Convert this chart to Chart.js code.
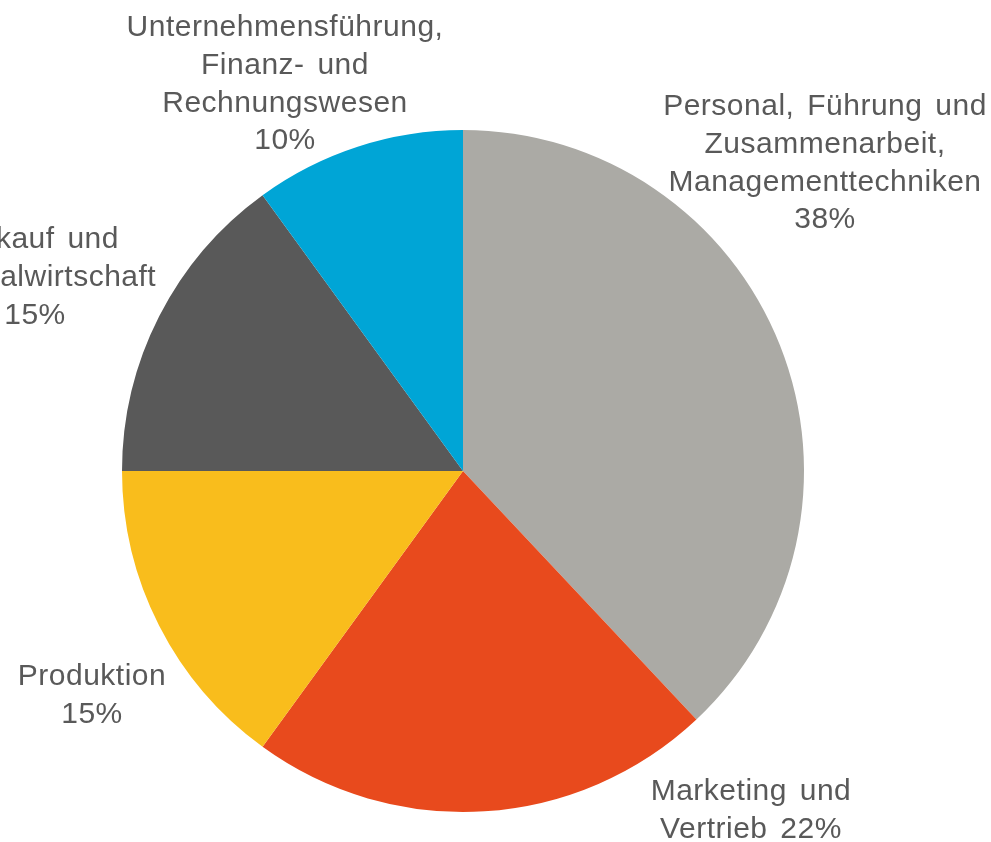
<!DOCTYPE html>
<html>
<head>
<meta charset="utf-8">
<script src="https://cdn.jsdelivr.net/npm/chart.js@4"></script>
<style>
  html, body { margin: 0; padding: 0; background: #fff; }
  #wrap { width: 991px; height: 842px; position: relative; }
</style>
</head>
<body>
<div id="wrap"><canvas id="myChart"></canvas></div>
<script>
const categories = [
    'Personal, Führung und Zusammenarbeit, Managementtechniken',
    'Marketing und Vertrieb',
    'Produktion',
    'Einkauf und Materialwirtschaft',
    'Unternehmensführung, Finanz- und Rechnungswesen'
];
const values = [38, 22, 15, 15, 10];
const sliceColors = ['#ABAAA5', '#E84A1D', '#F9BD1C', '#595959', '#00A5D6'];

// label lines shown next to each slice (last piece gets the percentage)
const labelLines = [
    ['Personal, Führung und', 'Zusammenarbeit,', 'Managementtechniken', ''],
    ['Marketing und', 'Vertrieb '],
    ['Produktion', ''],
    ['Einkauf und', 'Materialwirtschaft', ''],
    ['Unternehmensführung,', 'Finanz- und', 'Rechnungswesen', '']
];

// first line centre, relative to the pie centre
const labelOffsets = [[362, -364], [288, 321], [-371, 206], [-428, -231], [-178, -443]];

const pieLabels = {
    id: 'pieLabels',
    afterDraw(chart) {
        const ctx = chart.ctx;
        const arc = chart.getDatasetMeta(0).data[0];
        const cx = arc.x, cy = arc.y;
        const total = values.reduce((a, b) => a + b, 0);
        ctx.save();
        ctx.fillStyle = '#595959';
        ctx.font = '30px "Liberation Sans", Arial, sans-serif';
        ctx.textAlign = 'center';
        ctx.textBaseline = 'middle';
        if ('letterSpacing' in ctx) ctx.letterSpacing = '0.5px';
        if ('wordSpacing' in ctx) ctx.wordSpacing = '4px';
        labelLines.forEach((lines, i) => {
            const pct = Math.round(values[i] / total * 100) + '%';
            lines.forEach((line, j) => {
                const txt = j === lines.length - 1 ? line + pct : line;
                ctx.fillText(txt, cx + labelOffsets[i][0], cy + labelOffsets[i][1] + j * 37.7);
            });
        });
        ctx.restore();
    }
};

function init() {
    const ctx = document.getElementById('myChart').getContext('2d');
    new Chart(ctx, {
        type: 'pie',
        data: {
            labels: categories,
            datasets: [{
                data: values,
                backgroundColor: sliceColors,
                borderWidth: 0
            }]
        },
        options: {
            responsive: true,
            maintainAspectRatio: false,
            animation: false,
            layout: { padding: { left: 122, right: 187, top: 130, bottom: 30 } },
            plugins: {
                legend: { display: false },
                tooltip: { enabled: false }
            }
        },
        plugins: [pieLabels]
    });
}

document.addEventListener('DOMContentLoaded', init);
</script>
</body>
</html>
